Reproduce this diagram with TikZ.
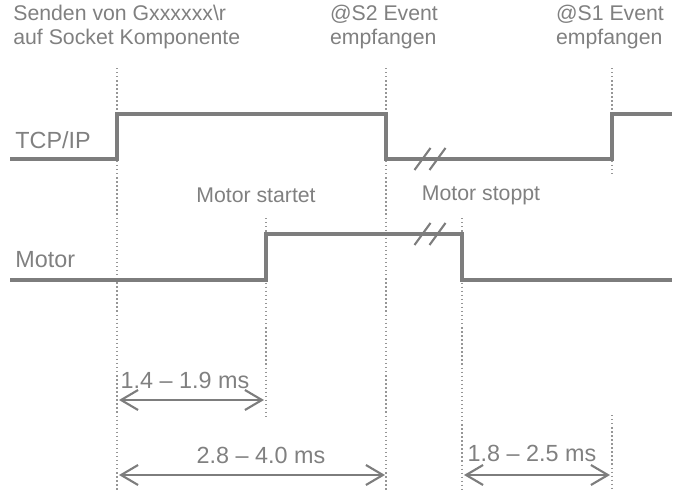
\documentclass[tikz,border=0pt]{standalone}
\usepackage{fontspec}
\setmainfont{Liberation Sans}
\usepackage{xcolor}
\usetikzlibrary{arrows.meta}
\definecolor{wavegray}{RGB}{125,125,125}
\definecolor{textgray}{RGB}{128,128,128}
\definecolor{dotgray}{RGB}{150,150,150}

\begin{document}
\begin{tikzpicture}[
  x=0.02cm, y=-0.02cm,
  font=\fontsize{12.1}{13.7}\selectfont,
  lbl/.style={text=textgray,inner sep=0pt,align=left},
  biglbl/.style={lbl,font=\fontsize{13.3}{15}\selectfont},
  wave/.style={draw=wavegray,line width=2pt},
  brk/.style={draw=wavegray,line width=1.2pt},
  guide/.style={draw=dotgray,line width=0.8pt,dash pattern=on 0.8pt off 1.5pt},
  dim/.style={draw=wavegray,line width=1.2pt,
    {Straight Barb[length=3.4mm,width=4mm]}-{Straight Barb[length=3.4mm,width=4mm]}},
]
\useasboundingbox (0,0) rectangle (679,490);
% time marks
\coordinate (send) at (117,0);
\coordinate (mstart) at (266,0);
\coordinate (s2) at (386,0);
\coordinate (mstop) at (462,0);
\coordinate (s1) at (612,0);
% dotted guides
\draw[guide] (send |- 0,68) -- (send |- 0,490);
\draw[guide] (s2 |- 0,68) -- (s2 |- 0,490);
\draw[guide] (s1 |- 0,68) -- (s1 |- 0,175);
\draw[guide] (s1 |- 0,415) -- (s1 |- 0,490);
\draw[guide] (mstart |- 0,218) -- (mstart |- 0,420);
\draw[guide] (mstop |- 0,218) -- (mstop |- 0,490);
% signals
\draw[wave] (10,159) -| (send |- 0,114) -| (s2 |- 0,159) -| (s1 |- 0,114) -- (672,114);
\draw[wave] (10,280) -| (mstart |- 0,234) -| (mstop |- 0,280) -- (672,280);
\foreach \y in {159,234}
  \foreach \dx in {-7.5,7.5}
    \draw[brk] (430+\dx-8,\y+11) -- ++(16,-22);
% labels
\node[lbl,anchor=west] (sendlbl) at (13,27) {Senden von Gxxxxxx\textbackslash r\\auf Socket Komponente};
\node[lbl] (s2lbl) at (384,27) {@S2 Event\\empfangen};
\node[lbl] (s1lbl) at (610,27) {@S1 Event\\empfangen};
\node[biglbl,anchor=west] (tcp) at (15,140) {TCP/IP};
\node[biglbl,anchor=west] (motor) at (15,260) {Motor};
\node[lbl] (startlbl) at (256,195) {Motor startet};
\node[lbl] (stoplbl) at (481,195) {Motor stoppt};
% durations
\coordinate (d1a) at (119,400);
\coordinate (d1b) at (264,400);
\coordinate (d2a) at (119,475);
\coordinate (d2b) at (385,475);
\coordinate (d3a) at (464,475);
\coordinate (d3b) at (610,475);
\draw[dim] (d1a) -- (d1b);
\draw[dim] (d2a) -- (d2b);
\draw[dim] (d3a) -- (d3b);
\node[biglbl] (t1) at (185,380) {1.4 -- 1.9 ms};
\node[biglbl] (t2) at (261,455) {2.8 -- 4.0 ms};
\node[biglbl] (t3) at (532,453) {1.8 -- 2.5 ms};
\end{tikzpicture}
\end{document}
